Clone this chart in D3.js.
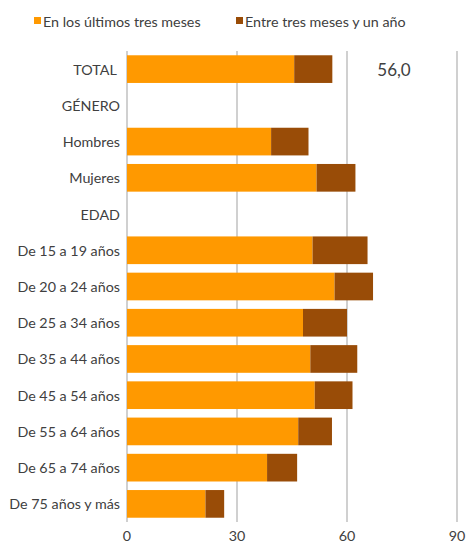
<!DOCTYPE html>
<html>
<head>
<meta charset="utf-8">
<script src="https://cdn.jsdelivr.net/npm/d3@7"></script>
<style>
  body { margin: 0; background: #fff; }
  svg { font-family: Lato, "Open Sans", sans-serif; }
</style>
</head>
<body>
<div id="chart"></div>
<script>
// data
const categories = ["TOTAL ", "GÉNERO", "Hombres", "Mujeres", "EDAD",
  "De 15 a 19 años", "De 20 a 24 años", "De 25 a 34 años", "De 35 a 44 años",
  "De 45 a 54 años", "De 55 a 64 años", "De 65 a 74 años", "De 75 años y más"]
const last_three_months = [45.6, null, 39.3, 51.7, null, 50.6, 56.6, 48.0, 50.0, 51.2, 46.7, 38.2, 21.4]
const three_months_to_year = [10.4, null, 10.2, 10.6, null, 15.0, 10.5, 12.0, 12.8, 10.3, 9.2, 8.2, 5.1]
const series_names = ["En los últimos tres meses", "Entre tres meses y un año"]
const x_ticks = [0, 30, 60, 90]
const total_label = "56,0"

const colours = ["#FF9900", "#994C07"]

var width = 468, height = 543
var margin = {top: 51, right: 11, bottom: 21, left: 127}

var svg = d3.select("#chart").append("svg")
  .attr("width", width)
  .attr("height", height)

var x = d3.scaleLinear().domain([0, 90]).range([margin.left, width - margin.right])
var y = d3.scaleBand().domain(categories)
  .range([margin.top, height - margin.bottom])
  .paddingInner(0.236).paddingOuter(0.118)

// gridlines
svg.append("g")
  .selectAll("line")
  .data(x_ticks)
  .enter()
  .append("line")
    .attr("x1", d => x(d)).attr("x2", d => x(d))
    .attr("y1", margin.top).attr("y2", height - margin.bottom)
    .attr("stroke", "#c0c0c0")
    .attr("stroke-width", 1.5)

// stacked bars
var rows = categories.map(function(c, i) {
  return {cat: c, a: last_three_months[i], b: three_months_to_year[i]}
}).filter(d => d.a != null)

var bars = svg.append("g")
bars.selectAll(".a")
  .data(rows)
  .enter()
  .append("rect")
    .attr("x", x(0))
    .attr("y", d => y(d.cat))
    .attr("width", d => x(d.a) - x(0))
    .attr("height", y.bandwidth())
    .attr("fill", colours[0])
bars.selectAll(".b")
  .data(rows)
  .enter()
  .append("rect")
    .attr("x", d => x(d.a))
    .attr("y", d => y(d.cat))
    .attr("width", d => x(d.a + d.b) - x(d.a))
    .attr("height", y.bandwidth())
    .attr("fill", colours[1])

// category labels
svg.append("g")
  .selectAll("text")
  .data(categories)
  .enter()
  .append("text")
    .attr("x", margin.left - 7)
    .attr("y", d => y(d) + y.bandwidth() / 2)
    .attr("text-anchor", "end")
    .attr("dominant-baseline", "central")
    .style("font-size", "14.3px")
    .style("fill", "#404040")
    .style("white-space", "pre")
    .text(d => d)

// x tick labels
svg.append("g")
  .selectAll("text")
  .data(x_ticks)
  .enter()
  .append("text")
    .attr("x", d => x(d))
    .attr("y", height - 2)
    .attr("text-anchor", "middle")
    .style("font-size", "14.3px")
    .style("fill", "#404040")
    .text(d => d)

// total value label
svg.append("text")
  .attr("x", 394)
  .attr("y", y(categories[0]) + y.bandwidth() / 2)
  .attr("text-anchor", "middle")
  .attr("dominant-baseline", "central")
  .style("font-size", "17px")
  .style("fill", "#404040")
  .text(total_label)

// legend
var legend = svg.append("g")
var legend_x = [34, 236]
legend.selectAll("rect")
  .data(series_names)
  .enter()
  .append("rect")
    .attr("x", (d, i) => legend_x[i])
    .attr("y", 17)
    .attr("width", 7)
    .attr("height", 7)
    .attr("fill", (d, i) => colours[i])
legend.selectAll("text")
  .data(series_names)
  .enter()
  .append("text")
    .attr("x", (d, i) => legend_x[i] + 9)
    .attr("y", 21)
    .attr("dominant-baseline", "central")
    .style("font-size", "14.3px")
    .style("fill", "#404040")
    .text(d => d)
</script>
</body>
</html>
